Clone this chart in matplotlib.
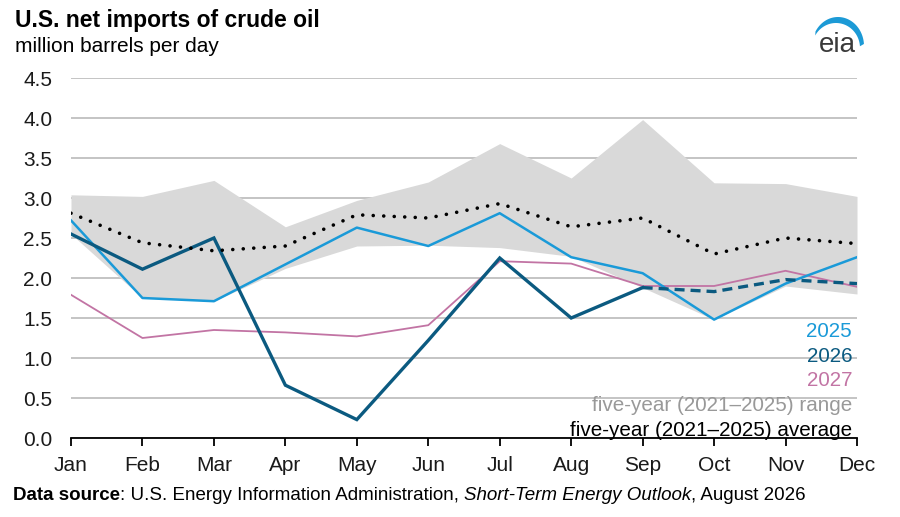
import numpy as np
import matplotlib
matplotlib.use("Agg")
import matplotlib.pyplot as plt

plt.rcParams['font.family'] = ['Liberation Sans', 'DejaVu Sans']

months = ["Jan", "Feb", "Mar", "Apr", "May", "Jun", "Jul", "Aug", "Sep", "Oct", "Nov", "Dec"]
range_high = [3.04, 3.02, 3.22, 2.64, 2.97, 3.20, 3.68, 3.25, 3.98, 3.19, 3.18, 3.02]
range_low = [2.55, 1.75, 1.71, 2.12, 2.40, 2.41, 2.38, 2.27, 1.88, 1.48, 1.90, 1.80]
avg_5yr = [2.81, 2.44, 2.34, 2.40, 2.79, 2.75, 2.93, 2.64, 2.75, 2.30, 2.50, 2.43]
y2025 = [2.72, 1.75, 1.71, 2.17, 2.63, 2.40, 2.81, 2.26, 2.06, 1.48, 1.93, 2.26]
y2026 = [2.55, 2.11, 2.50, 0.66, 0.23, 1.22, 2.25, 1.50, 1.88, 1.83, 1.98, 1.93]
y2027 = [1.79, 1.25, 1.35, 1.32, 1.27, 1.41, 2.21, 2.18, 1.90, 1.90, 2.09, 1.89]
hist_end = 8  # 2026 history through Sep, forecast after

c2025 = "#1a9ad8"
c2026 = "#0b5a80"
c2027 = "#c274a4"
crange = "#d9d9d9"

fig = plt.figure(figsize=(9, 5.17), dpi=100)
ax = fig.add_axes([71/900, 1-438/517, (857-71)/900, (438-78)/517])
x = np.arange(len(months))

ax.fill_between(x, range_low, range_high, color=crange, lw=0, zorder=2)
ax.plot(x, avg_5yr, color="black", lw=2.6, linestyle=(0, (0.01, 2.9)),
        dash_capstyle="round", zorder=6)
ax.plot(x, y2027, color=c2027, lw=1.3, zorder=3)
ax.plot(x, y2025, color=c2025, lw=1.8, zorder=4)
ax.plot(x[:hist_end+1], y2026[:hist_end+1], color=c2026, lw=2.4, zorder=5,
        solid_joinstyle="miter")
ax.plot(x[hist_end:], y2026[hist_end:], color=c2026, lw=2.4, zorder=5,
        linestyle=(0, (3, 1.8)))

ax.set_xlim(0, 11)
ax.set_ylim(0, 4.5)
ax.set_yticks(np.arange(0, 4.51, 0.5))
ax.set_yticklabels([f"{v:.1f}" for v in np.arange(0, 4.51, 0.5)])
ax.set_xticks(x)
ax.set_xticklabels(months)
ax.grid(axis="y", color="#bfbfbf", lw=1.3, zorder=1)
ax.set_axisbelow(True)
for s in ["left", "right", "top"]:
    ax.spines[s].set_visible(False)
ax.spines["bottom"].set_color("black")
ax.spines["bottom"].set_linewidth(1.3)
ax.spines["bottom"].set_zorder(7)
ax.tick_params(axis="y", length=0, pad=13.5, labelsize=15, colors="#1a1a1a")
ax.tick_params(axis="x", length=6, width=1.3, pad=7, labelsize=15, colors="black")
for lbl in ax.get_yticklabels():
    lbl.set_color("#1a1a1a")
for lbl in ax.get_xticklabels():
    lbl.set_color("#1a1a1a")

# legend text labels
leg = [("2025", c2025), ("2026", c2026), ("2027", c2027),
       ("five-year (2021\u20132025) range", "#999999"),
       ("five-year (2021\u20132025) average", "black")]
ys = [331.7, 356.7, 380.5, 405.5, 430]
for (t, c), yy in zip(leg, ys):
    fig.text(852/900, 1-yy/517, t, color=c, fontsize=14.9, ha="right", va="center", zorder=10)

fig.text(15/900, 1-20/517, "U.S. net imports of crude oil", fontsize=16.5, fontweight="bold",
         ha="left", va="center", color="black")
fig.text(15/900, 1-46/517, "million barrels per day", fontsize=15, ha="left", va="center",
         color="black")

# source line
src_y = 1-495/517
fs_src = 13.5
t1 = fig.text(13/900, src_y, "Data source", fontsize=fs_src, fontweight="bold", ha="left", va="center")
fig.canvas.draw()
r = fig.canvas.get_renderer()
def nxt(t, s, **kw):
    bb = t.get_window_extent(r)
    tt = fig.text(bb.x1/900, src_y, s, fontsize=fs_src, ha="left", va="center", **kw)
    return tt
t2 = nxt(t1, ": U.S. Energy Information Administration, ")
t3 = nxt(t2, "Short-Term Energy Outlook", style="italic")
t4 = nxt(t3, ", August 2026")

# eia logo overlay
lax = fig.add_axes([0, 0, 1, 1], zorder=20)
lax.set_xlim(0, 900)
lax.set_ylim(517, 0)
lax.axis("off")
lax.patch.set_alpha(0)
th = np.radians(np.linspace(4, 150, 60))
ox = 838 + 26*np.cos(th); oy = 46 - 29*np.sin(th)
th2 = th[::-1]
ix = 836 + 24*np.cos(th2); iy = 48 - 25*np.sin(th2)
lax.fill(np.concatenate([ox, ix]), np.concatenate([oy, iy]), color="#1c9ad6", lw=0)
lax.text(837, 45, "eia", fontsize=20, ha="center", va="center", color="#3a3a3a")

fig.savefig("out.png", dpi=100)
